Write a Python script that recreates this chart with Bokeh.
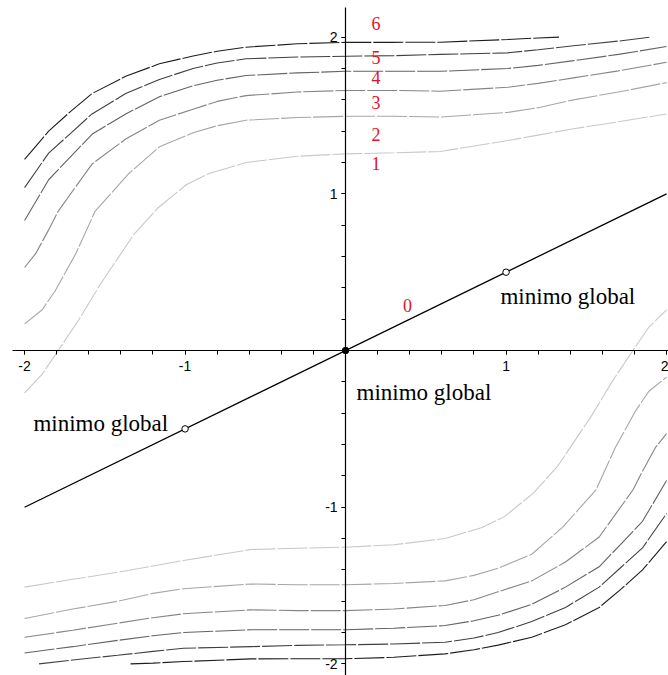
from bokeh.plotting import figure
from bokeh.models import Range1d, LinearAxis, FixedTicker
from bokeh.core.properties import value
from bokeh.embed import file_html
from bokeh.resources import INLINE

# ---- contour levels: upper branch (above the valley) ----
x1u = [-2.00, -1.89, -1.79, -1.66, -1.53, -1.32, -1.17, -0.99, -0.85, -0.62, -0.30, 0.00, 0.30, 0.59, 1.01, 1.20, 1.42, 1.70, 2.00]
y1u = [-0.27, -0.15, 0.00, 0.20, 0.42, 0.74, 0.91, 1.06, 1.13, 1.20, 1.24, 1.255, 1.262, 1.27, 1.34, 1.375, 1.415, 1.46, 1.51]
x2u = [-2.00, -1.89, -1.81, -1.68, -1.56, -1.35, -1.16, -0.95, -0.80, -0.62, -0.30, 0.00, 0.30, 0.59, 1.01, 1.20, 1.42, 1.70, 2.00]
y2u = [0.17, 0.26, 0.38, 0.62, 0.89, 1.13, 1.30, 1.39, 1.435, 1.47, 1.487, 1.495, 1.495, 1.49, 1.52, 1.55, 1.60, 1.65, 1.71]
x3u = [-2.00, -1.93, -1.85, -1.79, -1.58, -1.37, -1.16, -0.95, -0.80, -0.62, -0.30, 0.00, 0.30, 0.59, 1.01, 1.20, 1.42, 1.70, 2.00]
y3u = [0.53, 0.62, 0.77, 0.89, 1.19, 1.35, 1.47, 1.54, 1.59, 1.627, 1.65, 1.66, 1.66, 1.655, 1.68, 1.705, 1.74, 1.785, 1.84]
x4u = [-2.00, -1.85, -1.72, -1.58, -1.37, -1.16, -0.95, -0.80, -0.62, -0.30, 0.00, 0.30, 0.59, 1.01, 1.20, 1.42, 1.70, 2.00]
y4u = [0.83, 1.09, 1.23, 1.38, 1.51, 1.62, 1.69, 1.725, 1.755, 1.772, 1.782, 1.782, 1.782, 1.80, 1.82, 1.85, 1.89, 1.94]
x5u = [-2.00, -1.85, -1.72, -1.58, -1.37, -1.16, -0.95, -0.80, -0.62, -0.30, 0.00, 0.30, 0.59, 1.01, 1.20, 1.42, 1.70, 1.90]
y5u = [1.04, 1.26, 1.38, 1.51, 1.64, 1.73, 1.80, 1.835, 1.862, 1.873, 1.878, 1.882, 1.89, 1.90, 1.92, 1.945, 1.975, 2.00]
x6u = [-2.00, -1.85, -1.72, -1.58, -1.37, -1.16, -0.95, -0.80, -0.62, -0.30, 0.00, 0.30, 0.59, 1.01, 1.20, 1.33]
y6u = [1.22, 1.40, 1.52, 1.64, 1.75, 1.83, 1.88, 1.91, 1.936, 1.958, 1.967, 1.967, 1.968, 1.985, 1.995, 2.00]

# ---- contour levels: lower branch (below the valley) ----
x1l = [-2.00, -1.70, -1.42, -1.20, -1.01, -0.59, -0.30, 0.00, 0.30, 0.62, 0.85, 0.99, 1.17, 1.32, 1.53, 1.66, 1.79, 1.89, 2.00]
y1l = [-1.51, -1.46, -1.415, -1.375, -1.34, -1.27, -1.262, -1.255, -1.24, -1.20, -1.13, -1.06, -0.91, -0.74, -0.42, -0.20, 0.00, 0.15, 0.26]
x2l = [-2.00, -1.70, -1.42, -1.20, -1.01, -0.59, -0.30, 0.00, 0.30, 0.62, 0.80, 0.95, 1.16, 1.35, 1.56, 1.68, 1.81, 1.89, 2.00]
y2l = [-1.71, -1.65, -1.60, -1.55, -1.52, -1.49, -1.495, -1.495, -1.487, -1.47, -1.435, -1.39, -1.30, -1.13, -0.89, -0.62, -0.38, -0.26, -0.17]
x3l = [-2.00, -1.70, -1.42, -1.20, -1.01, -0.59, -0.30, 0.00, 0.30, 0.62, 0.80, 0.95, 1.16, 1.37, 1.58, 1.79, 1.85, 1.93, 2.00]
y3l = [-1.83, -1.785, -1.74, -1.705, -1.68, -1.655, -1.66, -1.66, -1.65, -1.627, -1.59, -1.54, -1.47, -1.35, -1.19, -0.89, -0.77, -0.62, -0.53]
x4l = [-2.00, -1.70, -1.42, -1.20, -1.01, -0.59, -0.30, 0.00, 0.30, 0.62, 0.80, 0.95, 1.16, 1.37, 1.58, 1.72, 1.85, 2.00]
y4l = [-1.93, -1.89, -1.85, -1.82, -1.80, -1.782, -1.782, -1.782, -1.772, -1.755, -1.725, -1.69, -1.62, -1.51, -1.38, -1.23, -1.09, -0.83]
x5l = [-1.91, -1.70, -1.42, -1.20, -1.01, -0.59, -0.30, 0.00, 0.30, 0.62, 0.80, 0.95, 1.16, 1.37, 1.58, 1.72, 1.85, 2.00]
y5l = [-2.00, -1.975, -1.945, -1.92, -1.90, -1.89, -1.882, -1.878, -1.873, -1.862, -1.835, -1.80, -1.73, -1.64, -1.51, -1.38, -1.26, -1.04]
x6l = [-1.34, -1.20, -1.01, -0.59, -0.30, 0.00, 0.30, 0.62, 0.80, 0.95, 1.16, 1.37, 1.58, 1.72, 1.85, 2.00]
y6l = [-2.00, -1.995, -1.985, -1.968, -1.967, -1.967, -1.958, -1.936, -1.91, -1.88, -1.83, -1.75, -1.64, -1.52, -1.40, -1.22]

# valley of zero height and the three minima on it
zero_x = [-2.0, 2.0]
zero_y = [-1.0, 1.0]
min_x = [-1.0, 0.0, 1.0]
min_y = [-0.5, 0.0, 0.5]
min_text = ["minimo global", "minimo global", "minimo global"]
min_text_x = [-1.945, 0.068, 0.965]
min_text_y = [-0.464, -0.27, 0.345]

# level labels
level_names = ["0", "1", "2", "3", "4", "5", "6"]
level_label_x = [0.386, 0.19, 0.19, 0.19, 0.19, 0.19, 0.19]
level_label_y = [0.287, 1.191, 1.376, 1.585, 1.740, 1.868, 2.085]

# axis ticks
major_ticks = [-2, -1, 1, 2]
minor_ticks = [round(-2.0 + 0.2 * i, 1) for i in range(21)]

level_colors = ["#c8c8c8", "#a6a6a6", "#858585", "#636363", "#404040", "#1e1e1e"]

p = figure(width=668, height=675,
           x_range=Range1d(-2.15, 2.012), y_range=Range1d(-2.074, 2.234),
           x_axis_type=None, y_axis_type=None,
           output_backend="svg", toolbar_location=None, tools="",
           min_border=0)
p.outline_line_color = None
p.background_fill_color = "white"
p.border_fill_color = "white"

upper = [(x1u, y1u), (x2u, y2u), (x3u, y3u), (x4u, y4u), (x5u, y5u), (x6u, y6u)]
lower = [(x1l, y1l), (x2l, y2l), (x3l, y3l), (x4l, y4l), (x5l, y5l), (x6l, y6l)]
for color, (xu, yu), (xl, yl) in zip(level_colors, upper, lower):
    p.line(xu, yu, line_color=color, line_width=1.1, line_dash="30 2")
    p.line(xl, yl, line_color=color, line_width=1.1, line_dash="30 2")

p.line(zero_x, zero_y, line_color="black", line_width=1.3)

# crossing axes through the origin
tick_overrides = {t: str(t) for t in major_ticks}
axis_style = dict(axis_line_color="black", axis_line_width=1.2,
                  major_tick_line_color="black", minor_tick_line_color="black",
                  major_tick_in=0, major_tick_out=4, minor_tick_in=0, minor_tick_out=4,
                  major_label_text_font="Liberation Sans",
                  major_label_text_font_size="14px",
                  major_label_text_color="black",
                  major_label_overrides=tick_overrides)
xaxis = LinearAxis(fixed_location=0, bounds=(-2.077, 2.012),
                   ticker=FixedTicker(ticks=major_ticks, minor_ticks=minor_ticks),
                   major_label_standoff=6, **axis_style)
yaxis = LinearAxis(fixed_location=0, bounds=(-2.074, 2.19),
                   ticker=FixedTicker(ticks=major_ticks, minor_ticks=minor_ticks),
                   major_label_standoff=4, **axis_style)
p.add_layout(xaxis, "below")
p.add_layout(yaxis, "left")

p.scatter(min_x, min_y, size=6.5, marker="circle",
          fill_color=["white", "black", "white"], line_color="black", line_width=1)

p.text(min_text_x, min_text_y, text=min_text,
       text_font=value("Liberation Serif"), text_font_size="23px",
       text_color="black", text_baseline="alphabetic", text_align="left")

p.text(level_label_x, level_label_y, text=level_names,
       text_font=value("Liberation Serif"), text_font_size="18px",
       text_color="#e3122c", text_baseline="middle", text_align="center")

open("out.html", "w").write(file_html(p, INLINE))
